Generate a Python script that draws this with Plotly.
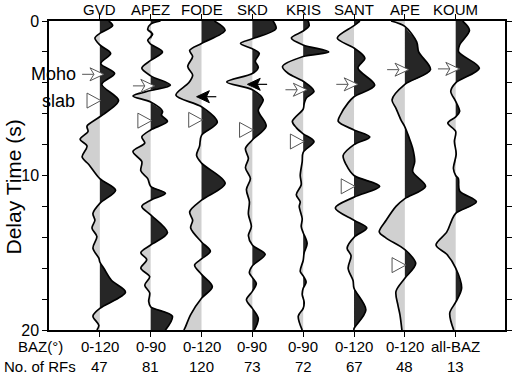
import numpy as np
import plotly.graph_objects as go

# ---------------- data ----------------
stations = ["GVD", "APEZ", "FODE", "SKD", "KRIS", "SANT", "APE", "KOUM"]
baz_labels = ["0-120", "0-90", "0-120", "0-90", "0-90", "0-120", "0-120", "all-BAZ"]
n_rfs = [47, 81, 120, 73, 72, 67, 48, 13]

# knots of each receiver-function trace: delay time (s) and amplitude (arbitrary units)
gvd_t = [0, 0.3, 0.8, 1.1, 1.55, 2.1, 2.75, 3.4, 4.1, 5.15, 6.2, 6.8, 7.15, 7.65, 8.1, 8.8, 9.3, 10.2,
         10.95, 11.8, 12.45, 12.9, 13.4, 13.95, 14.7, 15.35, 15.6, 16.0, 16.8, 17.55, 18.6, 19.1, 19.7, 20]
gvd_a = [9, 13, 0, -5, 0, 11, 1, 15, 2, 19, 0, -13, -12, -20, -13, -18, -11, 0,
         16, 0, -7, -5, -8, -3, -7, -1, 0, 4, 12, 26, 0, -7, -1, -3]

apez_t = [0, 0.2, 0.55, 0.85, 1.25, 1.5, 2.0, 2.55, 3.05, 3.55, 4.15, 4.5, 4.85, 5.25, 5.85, 6.1, 6.5,
          7.05, 7.5, 7.9, 8.45, 9.1, 9.7, 10.2, 10.7, 11.15, 11.6, 12.0, 12.55, 13.7, 14.5, 15.0, 15.45,
          16.0, 16.55, 17.1, 17.6, 18.15, 18.5, 19.1, 20]
apez_a = [10, 0, -3, 2, -3, 0, 12, 0, -9, 0, 20, 0, -18, 0, 12, 11, 17,
          0, -9, -6, -18, -9, -10, -3, 0, 15, 0, -9, 0, 17, 0, -10, -4,
          -10, -1, -6, -1, -2, 0, 22, 15]

fode_t = [0, 0.6, 1.45, 1.9, 2.3, 2.95, 3.5, 4.0, 4.8, 5.55, 6.55, 7.4, 8.1, 8.7, 9.2, 10.5, 11.6,
          12.35, 12.9, 13.4, 14.3, 14.9, 15.4, 15.8, 16.4, 17.2, 17.95, 19.0, 19.9, 20]
fode_a = [13, 24, 0, -12, -9, -14, -9, -13, -26, 0, 16, 0, -2, -5, 0, 24, 0,
          -12, -9, -11, 0, 9, 0, -7, 0, 11, 0, -11, -17, -18]

skd_t = [0, 0.5, 1.15, 1.45, 1.8, 2.1, 2.6, 3.0, 3.4, 3.95, 4.45, 5.1, 5.8, 6.8, 7.7, 8.25, 8.9, 9.5,
         10.2, 10.9, 11.7, 12.5, 13.3, 13.9, 14.5, 15.1, 15.85, 16.3, 16.6, 17.0, 17.5, 18.05, 18.6,
         19.25, 20]
skd_a = [21, 24, 0, -12, 0, 7, 3, 6, 0, -26, 0, 11, 6, 14, 0, -7, -4, -7,
         -2, -6, -3, -4, -1, -4, 0, 13, 0, -3, 0, 4, 0, -6, 0,
         6, 2]

kris_t = [0, 0.3, 0.65, 1.1, 1.55, 2.0, 2.3, 2.95, 3.4, 3.9, 4.55, 5.0, 5.35, 5.7, 6.5, 6.9, 7.3, 7.8,
          8.5, 9.1, 10.0, 10.6, 11.25, 11.7, 12.0, 12.8, 13.3, 13.7, 14.4, 15.0, 15.5, 16.2, 16.5, 16.9,
          17.3, 17.7, 18.2, 18.6, 19.1, 20]
kris_a = [5, 6, 0, -12, 0, 26, 0, -21, -15, 0, 11, 3, 1, 0, -11, -7, 0, 11,
          0, -1, -3, -2, -7, -3, -4, -1, -2, 0, 4, 1, 0, -3, 0, 3,
          0, -1, 1, 0, -5, -1]

sant_t = [0, 0.3, 1.1, 1.75, 2.4, 3.05, 4.15, 4.9, 5.3, 6.1, 6.5, 7.05, 7.5, 8.0, 8.7, 9.3, 10.0,
          10.7, 11.4, 12.1, 12.9, 13.4, 14.0, 14.7, 15.2, 16.0, 16.8, 17.3, 18.7, 19.9, 20]
sant_a = [6, 0, -17, 0, 11, 4, 21, 0, -6, -14, -16, 0, 16, 0, -11, -8, 0,
          26, 0, -19, 0, 13, 0, -7, -3, -6, -1, 0, 12, 0, 0]

ape_t = [0, 0.35, 1.35, 2.0, 3.15, 4.1, 5.1, 5.65, 6.4, 6.85, 7.5, 8.25, 9.1, 9.75, 10.7, 11.5, 12.0,
         12.9, 13.65, 14.05, 14.8, 15.7, 16.65, 17.5, 18.4, 19.0, 20]
ape_a = [-14, 0, 12, 14, 26, 0, -13, -9, -4, 0, 4, 8, 10, 8, 21, 0, -9,
         -19, -26, -19, 0, 11, 0, -9, -7, -5, -3]

koum_t = [0, 0.6, 1.55, 2.0, 3.05, 4.0, 4.55, 5.2, 5.85, 6.2, 6.6, 7.15, 7.8, 8.6, 9.55, 10.0, 10.2,
          11.0, 11.7, 12.45, 12.9, 13.65, 14.5, 15.1, 16.0, 17.3, 18.2, 18.9, 20]
koum_a = [7, 14, 4, 3, 24, 0, -5, 0, 4, 0, -8, 0, -1.3, 0.5, -2.3, 0, 2.7,
          4, 21, 0, -4, -9, -20, -9, 0, 6, 0, -6, -2]

trace_t = [gvd_t, apez_t, fode_t, skd_t, kris_t, sant_t, ape_t, koum_t]
trace_a = [gvd_a, apez_a, fode_a, skd_a, kris_a, sant_a, ape_a, koum_a]

# picked phases
moho_station = ["GVD", "APEZ", "KRIS", "SANT", "APE", "KOUM"]
moho_t = [3.45, 4.2, 4.45, 4.1, 3.15, 3.1]
slab_station = ["GVD", "APEZ", "FODE", "SKD", "KRIS", "SANT", "APE"]
slab_t = [5.15, 6.45, 6.4, 7.05, 7.8, 10.7, 15.8]
black_station = ["FODE", "SKD"]
black_t = [4.9, 4.1]

# ---------------- styles ----------------
FONT = "Liberation Sans, Arial, Helvetica, sans-serif"
POS_COLOR = "#262626"
NEG_COLOR = "#d0d0d0"
W, H = 520, 374
ML, MR, MT, MB = 49, 8, 21, 44
X_RANGE = [0, 8.97]
T_RANGE = [20, 0]
PX_X = (W - ML - MR) / (X_RANGE[1] - X_RANGE[0])   # px per x unit
PX_T = (H - MT - MB) / 20.0                       # px per second
AMP = 1.0 / PX_X                                   # amplitude unit -> x units
EPS = 0.02

xpos = {s: i + 1 for i, s in enumerate(stations)}

fig = go.Figure()


def clipped(t, a, sign):
    tt, aa = [], []
    for ti, ai in zip(t, a):
        v = max(ai, 0) if sign > 0 else min(ai, 0)
        if ai == 0:
            for d in (-EPS, 0, EPS):
                if 0 <= ti + d <= 20:
                    tt.append(ti + d)
                    aa.append(0.0)
        else:
            tt.append(ti)
            aa.append(v)
    return np.array(tt), np.array(aa)


for i, s in enumerate(stations):
    x0 = xpos[s]
    t = np.array(trace_t[i], float)
    a = np.array(trace_a[i], float)
    for sign, col in ((-1, NEG_COLOR), (1, POS_COLOR)):
        tc, ac = clipped(t, a, sign)
        fig.add_trace(go.Scatter(x=np.full_like(tc, x0), y=tc, mode="lines",
                                 line=dict(width=0), hoverinfo="skip", showlegend=False))
        fig.add_trace(go.Scatter(x=x0 + ac * AMP, y=tc, mode="lines",
                                 line=dict(width=0, shape="spline", smoothing=0.9, simplify=False),
                                 fill="tonextx", fillcolor=col, hoverinfo="skip", showlegend=False))
for i, s in enumerate(stations):
    x0 = xpos[s]
    t = np.array(trace_t[i], float)
    a = np.array(trace_a[i], float)
    fig.add_trace(go.Scatter(x=x0 + a * AMP, y=t, mode="lines",
                             line=dict(color="black", width=1.7, shape="spline", smoothing=0.9,
                                       simplify=False),
                             hoverinfo="skip", showlegend=False))

PT = PX_T


def poly(x0, t0, pts):
    xs = [x0 + px / PX_X for px, py in pts] + [x0 + pts[0][0] / PX_X]
    ys = [t0 + py / PT for px, py in pts] + [t0 + pts[0][1] / PT]
    return xs, ys


# slab triangles (open, tip at the trace baseline)
tri = [(1, 0), (-13, -7.5), (-13, 7.5)]
for s, tt in zip(slab_station, slab_t):
    xs, ys = poly(xpos[s], tt, tri)
    fig.add_trace(go.Scatter(x=xs, y=ys, mode="lines", fill="toself", fillcolor="white",
                             line=dict(color="#555555", width=1), hoverinfo="skip",
                             showlegend=False))

# Moho open arrows
head = [(4, 0), (-10, -6.5), (-6, 0), (-10, 6.5)]
for s, tt in zip(moho_station, moho_t):
    x0 = xpos[s]
    fig.add_trace(go.Scatter(x=[x0 - 18 / PX_X, x0 - 6 / PX_X], y=[tt, tt], mode="lines",
                             line=dict(color="#555555", width=1), hoverinfo="skip",
                             showlegend=False))
    xs, ys = poly(x0, tt, head)
    fig.add_trace(go.Scatter(x=xs, y=ys, mode="lines", fill="toself", fillcolor="white",
                             line=dict(color="#555555", width=1), hoverinfo="skip",
                             showlegend=False))

# black arrows pointing left
bhead = [(-5, 0), (8, -6), (5, 0), (8, 6)]
for s, tt in zip(black_station, black_t):
    x0 = xpos[s]
    fig.add_trace(go.Scatter(x=[x0 + 4 / PX_X, x0 + 15 / PX_X], y=[tt, tt], mode="lines",
                             line=dict(color="black", width=1.2), hoverinfo="skip",
                             showlegend=False))
    xs, ys = poly(x0, tt, bhead)
    fig.add_trace(go.Scatter(x=xs, y=ys, mode="lines", fill="toself", fillcolor="black",
                             line=dict(color="black", width=1), hoverinfo="skip",
                             showlegend=False))

# ---------------- annotations ----------------
ann = []
for s in stations:
    ann.append(dict(x=xpos[s], xref="x", y=1, yref="paper", yshift=12, yanchor="middle",
                    xanchor="center", text=s, showarrow=False,
                    font=dict(family=FONT, size=15, color="black")))
for s, b, n in zip(stations, baz_labels, n_rfs):
    ann.append(dict(x=xpos[s], xref="x", y=0, yref="paper", yshift=-16, yanchor="middle",
                    xanchor="center", text=b, showarrow=False,
                    font=dict(family=FONT, size=15, color="black")))
    ann.append(dict(x=xpos[s], xref="x", y=0, yref="paper", yshift=-36, yanchor="middle",
                    xanchor="center", text=str(n), showarrow=False,
                    font=dict(family=FONT, size=15, color="black")))
ann.append(dict(x=0, xref="paper", xshift=-9, y=0, yref="paper", yshift=-16, yanchor="middle",
                xanchor="center", text="BAZ(°)", showarrow=False,
                font=dict(family=FONT, size=15, color="black")))
ann.append(dict(x=0, xref="paper", xshift=-9, y=0, yref="paper", yshift=-36, yanchor="middle",
                xanchor="center", text="No. of RFs", showarrow=False,
                font=dict(family=FONT, size=15, color="black")))
ann.append(dict(x=0, xref="paper", xshift=29, y=moho_t[0], yref="y", yanchor="middle",
                xanchor="right", text="Moho", showarrow=False,
                font=dict(family=FONT, size=18, color="black")))
ann.append(dict(x=0, xref="paper", xshift=28, y=slab_t[0], yref="y", yanchor="middle",
                xanchor="right", text="slab", showarrow=False,
                font=dict(family=FONT, size=18, color="black")))
ann.append(dict(x=0, xref="paper", xshift=-36, y=0.5, yref="paper", yshift=-12,
                yanchor="middle", xanchor="center", text="Delay Time (s)", textangle=-90,
                showarrow=False, font=dict(family=FONT, size=21, color="black")))

tick_t = list(range(0, 21, 2))
tick_txt = [str(v) if v % 10 == 0 else "" for v in tick_t]

fig.update_layout(
    width=W, height=H,
    margin=dict(l=ML, r=MR, t=MT, b=MB, pad=0),
    paper_bgcolor="white", plot_bgcolor="white",
    showlegend=False,
    annotations=ann,
    xaxis=dict(range=X_RANGE, tickvals=[xpos[s] for s in stations],
               ticktext=["" for _ in stations], ticks="outside", ticklen=5, tickwidth=1,
               tickcolor="black", showline=True, linecolor="black", linewidth=1.5,
               mirror="ticks", showgrid=False, zeroline=False, fixedrange=True),
    yaxis=dict(range=T_RANGE, tickvals=tick_t, ticktext=tick_txt, ticks="outside",
               ticklen=5, tickwidth=1, tickcolor="black", showline=True, linecolor="black",
               linewidth=1.5, mirror="ticks", showgrid=False, zeroline=False,
               tickfont=dict(family=FONT, size=16, color="black"), fixedrange=True),
)

fig.write_html("out.html", config={"displayModeBar": False},
               post_script="document.body.style.margin='0';document.body.style.padding='0';")
